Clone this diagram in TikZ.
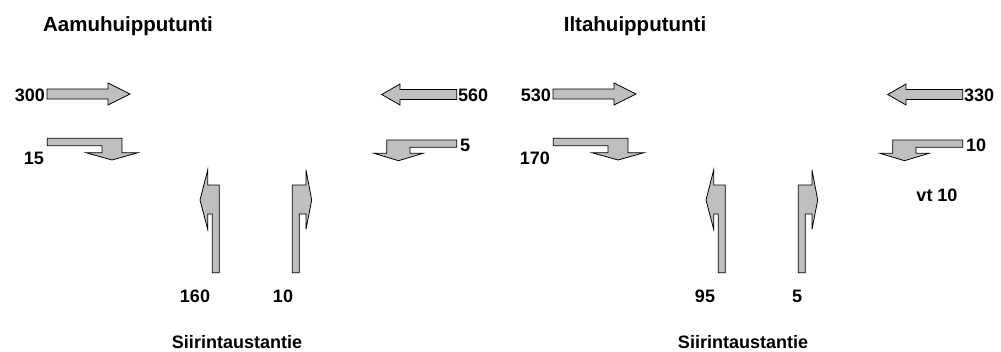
\documentclass[tikz,border=0pt]{standalone}
\usepackage{fontspec}
\setmainfont{Liberation Sans}
\begin{document}
\begin{tikzpicture}[x=1pt,y=-1pt,
  arr/.style={draw=black,fill=black!25,line width=0.8pt,line join=miter},
  lbl/.style={font=\fontsize{18}{21}\selectfont\bfseries,inner sep=0pt},
  ttl/.style={font=\fontsize{20.5}{24}\selectfont\bfseries,inner sep=0pt}]
\useasboundingbox (0,0) rectangle (1001,351);
\foreach \dx in {0,506}{
\begin{scope}[xshift=\dx]
  % straight right
  \draw[arr] (47,89) -- (108,89) -- (108,83) -- (130,94) -- (108,105) -- (108,99) -- (47,99) -- cycle;
  % straight left
  \draw[arr] (456.7,89.5) -- (400,89.5) -- (400,84) -- (381.7,94.5) -- (400,105) -- (400,99.5) -- (456.7,99.5) -- cycle;
  % turn right-then-down
  \draw[arr] (47.3,138.3) -- (122,138.3) -- (122,152.7) -- (138,152.7) -- (112,160) -- (86,152.7) -- (102,152.7) -- (102,145.7) -- (47.3,145.7) -- cycle;
  % turn left-then-down
  \draw[arr] (456.7,140) -- (386.7,140) -- (386.7,153.3) -- (374,153.3) -- (398.5,160.7) -- (423,153.3) -- (410,153.3) -- (410,147.3) -- (456.7,147.3) -- cycle;
  % up then left
  \draw[arr] (212.3,272.7) -- (219.3,272.7) -- (219.3,185) -- (207.7,185) -- (207.7,170) -- (200,200) -- (207.7,229.3) -- (207.7,214) -- (212.3,214) -- cycle;
  % up then right
  \draw[arr] (292.3,272.7) -- (299.3,272.7) -- (299.3,214) -- (306,214) -- (306,229.3) -- (311.7,200) -- (306,170) -- (306,185) -- (292.3,185) -- cycle;
\end{scope}}
\node[ttl,anchor=center] (t1) at (128,26) {Aamuhuipputunti};
\node[ttl,anchor=center] (t2) at (635,26) {Iltahuipputunti};
\node[lbl,anchor=east] (a1) at (45,95) {300};
\node[lbl,anchor=west] (a2) at (458,95) {560};
\node[lbl,anchor=east] (a3) at (44,158) {15};
\node[lbl,anchor=west] (a4) at (460,145) {5};
\node[lbl,anchor=center] (a5) at (195,296) {160};
\node[lbl,anchor=center] (a6) at (283,296) {10};
\node[lbl,anchor=center] (s1) at (237,342) {Siirintaustantie};
\node[lbl,anchor=east] (b1) at (551,95) {530};
\node[lbl,anchor=west] (b2) at (964,95) {330};
\node[lbl,anchor=east] (b3) at (550,158) {170};
\node[lbl,anchor=west] (b4) at (966,145) {10};
\node[lbl,anchor=center] (b5) at (937,195) {vt 10};
\node[lbl,anchor=center] (b6) at (705,296) {95};
\node[lbl,anchor=center] (b7) at (797,296) {5};
\node[lbl,anchor=center] (s2) at (743,342) {Siirintaustantie};
\end{tikzpicture}
\end{document}
